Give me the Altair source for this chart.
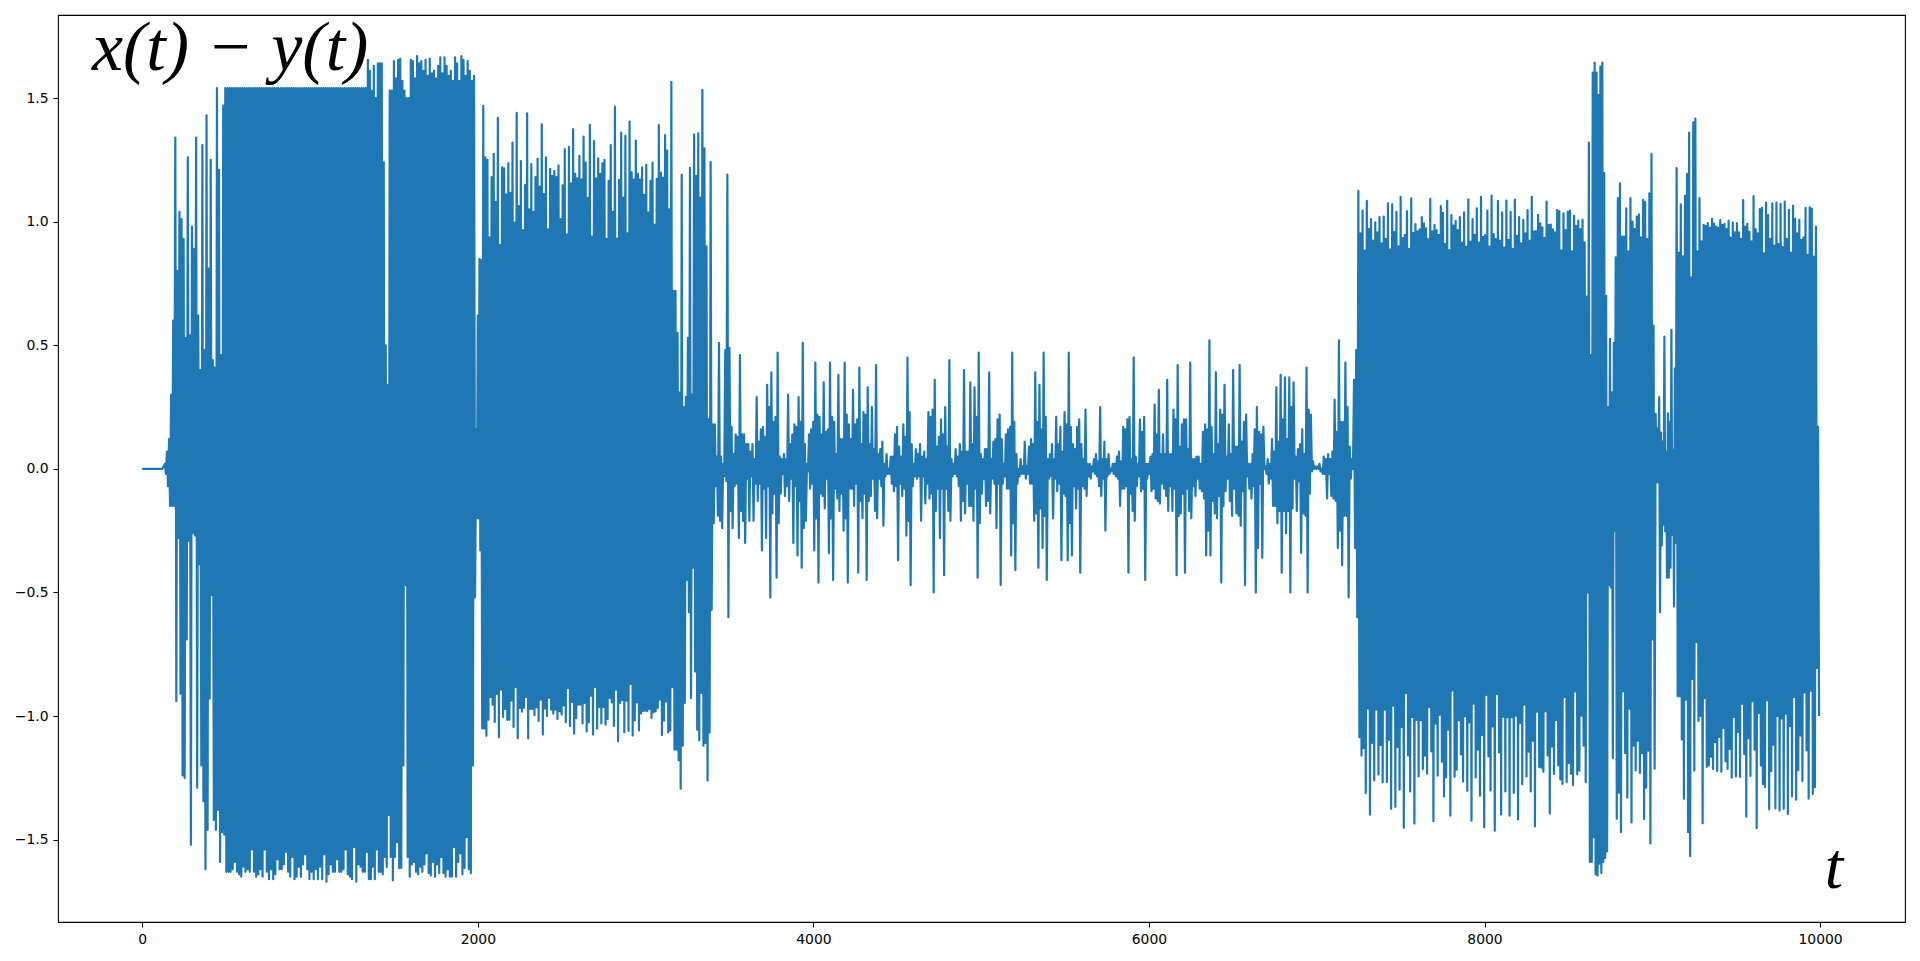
import altair as alt
import pandas as pd

flat_t = [0, 120]
flat_v = [0, 0]

# (start t, end t) for each stretch of the signal, with the tips
up_a = [.02,.07,.12,.30,.60,1.34,.80,1.04,1.01,.93,.53,1.26,.54,.98,.89,1.34,.62,.40,1.31,.48,1.43,.81,1.25,.44,.41,1.54,1.21,.46,1.47]
lo_a = [-.02,-.07,-.15,-.15,-.15,-.94,-.28,-.91,-1.24,-1.25,-.69,-.29,-1.52,-.26,-.27,-1.29,-.385,-1.2,-1.345,-1.62,-1.46,-.93,-.51,-1.42,-1.46,-1.38,-1.59,-1.47,-1.48]

up_b = [1.54] * 66
lo_b = [-1.63,-1.63,-1.63,-1.62,-1.59,-1.63,-1.64,-1.65,-1.61,-1.63,-1.62,-1.63,-1.54,-1.63,-1.65,-1.64,-1.62,-1.65,-1.54,-1.63,-1.66,-1.62,-1.66,-1.64,-1.58,-1.62,-1.62,-1.60,-1.55,-1.63,-1.65,-1.57,-1.66,-1.65,-1.61,-1.65,-1.60,-1.56,-1.62,-1.66,-1.63,-1.66,-1.62,-1.66,-1.61,-1.66,-1.56,-1.67,-1.64,-1.60,-1.63,-1.63,-1.58,-1.63,-1.63,-1.62,-1.54,-1.64,-1.65,-1.66,-1.53,-1.67,-1.60,-1.61,-1.63,-1.63]

up_c = [1.54,1.655,1.61,1.53,1.63,1.50,1.64,1.64,1.64,1.24,.50,.34]
lo_c = [-1.55,-1.66,-1.66,-1.61,-1.66,-1.54,-1.63,-1.63,-1.64,-1.57,-1.61,-1.40]

up_d = [1.53,1.65,1.58,1.655,1.66,1.57,1.53,1.50,1.50,1.655,1.65,1.58,1.67,1.64,1.65,1.61,1.655,1.59,1.66,1.60,1.61,1.58,1.63,1.665,1.60,1.665,1.63,1.59,1.61,1.57,1.665,1.64,1.57,1.67,1.655,1.59,1.65,1.61,1.57,1.59]
lo_d = [-1.57,-1.665,-1.57,-1.51,-1.615,-1.615,-1.2,-.47,-1.57,-1.65,-1.6,-1.59,-1.63,-1.64,-1.61,-1.63,-1.6,-1.555,-1.635,-1.645,-1.59,-1.65,-1.6,-1.635,-1.57,-1.635,-1.65,-1.62,-1.65,-1.65,-1.53,-1.65,-1.59,-1.555,-1.64,-1.615,-1.49,-1.62,-1.635,-1.2,-.52]

up_e = [.16,.62,.85]
lo_e = [-.2,-.33]

up_f = [.845,1.468,1.26,1.25,.937,1.18,1.274,1.08,1.42,.906,1.22,1.216,1.11,1.236,1.117,1.32,.996,1.44,1.063,1.245,.966,1.148,1.438,1.05,1.233,1.04,1.18,1.254,1.142,1.394,1.112,1.26,.969,1.214,1.185,1.205,1.18,1.228,1.01,1.147,1.294,.949,1.303,1.155,1.374,1.193,1.175,1.266,1.171,1.344,1.239,1.096,1.392,.94,1.326,1.175,1.256,1.193,1.236,1.25,.93,1.165,1.31,1.04,1.465,.931,1.169,1.36,1.097,1.347,.953,1.405,1.2,1.171,1.328,1.193,1.171,1.22,1.108,1.23,1.038,1.165,1.239,.988,1.173,1.391,1.198,1.178,1.35,1.287,1.05,1.566]
lo_f = [-1.05,-1.08,-1.015,-.923,-.954,-1.024,-.911,-1.085,-.893,-1.004,-.971,-1.015,-1.015,-.938,-1.044,-.883,-1.09,-.967,-.982,-.967,-.923,-1.09,-.971,-.971,-.997,-.965,-1.02,-.934,-1.075,-.97,-1.0,-.926,-.974,-.99,-.974,-1.012,-.98,-.994,-.957,-1.025,-.887,-1.04,-.943,-1.071,-1.008,-.954,-1.03,-.947,-1.062,-1.025,-.918,-1.075,-.883,-1.051,-.963,-1.03,-.963,-1.035,-1.012,-.927,-.945,-1.04,-.893,-1.102,-.947,-.936,-1.065,-.938,-1.06,-.87,-1.079,-1.017,-.945,-1.058,-.99,-.98,-.978,-.98,-.971,-1.008,-.985,-.981,-.967,-.934,-1.077,-1.019,-.942,-1.066,-1.058,-.883]

up_g = [.72,.72,.55,.31,1.19,.25,.29,.53,1.218,.3,1.353,1.185,1.357,1.097,1.533,1.297,.9,.2,1.241]
lo_g = [-1.136,-1.179,-1.294,-1.12,-.947,-.45,-.58,-.927,-.40,-.82,-1.055,-1.098,-.907,-1.12,-1.109,-1.261,-1.066,-.57]

# the quieter middle stretch, in hundredths
up_h = [18,18,5,51,5,2,48,119,49,17,6,14,13,46,14,14,10,10,7,10,4,29,11,16,17,13,34,25,39,19,21,47,5,4,6,4,30,10,14,18,17,29,19,51,10,2,14,16,19,43,22,21,14,35,15,16,43,21,19,6,38,12,12,43,22,18,12,32,18,20,41,10,23,22,33,10,25,8,42,6,8,11,2,6,0,5,5,14,17,9,5,18,13,45,23,10,2,8,6,10,5,7,4,23,21,24,36,9,13,20,14,25,9,44,4,2,8,5,10,7,40,7,7,35,10,33,21,47,6,4,8,8,39,4,11,12,20,22,12,2,14,16,17,47,19,6,0,4,1,11,1,9,12,10,39,19,34,16,47,21,4,6,10,4,21,10,17,7,23,18,47,17,10,8,17,20,10,4,24,2,2,1,4,6,3,25,4,11,4,6,0,2,2,5,7,3,17,16,20,21,4,45,5,2,20,15,21,2,2,5,6,26,14,32,6,14,6,36,6,6,24,20,42,9,18,20,20,8,43,4,4,5]
lo_h = [-22,-7,-19,-21,-24,-3,-5,-60,-17,-24,-7,-6,-28,-17,-21,-30,-4,-21,-3,-21,-6,-13,-6,-33,-8,-28,-7,-52,-18,-10,-44,-22,-10,-2,-11,-7,-13,-4,-30,-7,-35,-13,-40,-24,-21,-1,-8,-6,-33,-20,-46,-10,-11,-16,-4,-34,-20,-45,-8,-12,-17,-10,-25,-20,-46,-8,-8,-15,-6,-42,-13,-20,-10,-45,-13,-11,-4,-17,-20,-4,-7,-23,-3,-2,-2,-6,-9,-7,-37,-6,-11,-8,-27,-21,-47,-7,-3,-4,-3,-21,-3,-14,-6,-12,-10,-50,-17,-8,-28,-8,-43,-8,-17,-21,-3,-2,-3,-7,-21,-13,-18,-6,-15,-15,-21,-8,-44,-22,-10,-4,-15,-13,-18,-4,-6,-24,-6,-47,-6,-3,-8,-8,-35,-22,-41,-6,-3,-2,-2,-4,-2,-6,-6,-21,-18,-40,-16,-32,-19,-45,-4,-3,-20,-4,-9,-6,-37,-10,-11,-37,-22,-35,-7,-16,-8,-42,-7,-8,-11,-3,-4,-1,-2,-3,-7,-11,-4,-25,-3,-2,-1,-2,-3,-4,-15,-8,-8,-7,-42,-10,-17,-21,-7,-3,-9,-8,-45,-4,-2,-9,-8,-12,-13,-14,-6,-8,-11,-17,-7,-17,-8,-43,-19,-18,-10,-42,-8,-17,-20,-7,-11,-4]

up_i = [5,2,15,18,16,52,17,6,39,10,24,22,34,5,18,6,40,9,9,42,11,19,22,2,2,6,16,25,15,14,17,1,4,2,12,7,33,11,38,20,37,12,37,25,35,5,8,10,16,6,41,24,22,3,1,1,2,0,5,4,6,4,7,28,15,52,19,19,43,25,9,4,36,48]
lo_i = [-8,-9,-12,-35,-25,-35,-13,-18,-20,-11,-46,-15,-9,-4,-13,-19,-8,-18,-19,-23,-9,-47,-3,-8,-12,-7,-50,-32,-6,-36,0,-2,-6,-4,-15,-15,-22,-17,-42,-17,-26,-17,-50,-16,-4,-17,-5,-34,-18,-19,-50,-10,-1,0,0,0,-1,-2,-2,-12,-2,-11,-12,-13,-32,-25,-39,-19,-19,-52,-4,0,-32,-60]

up_j = [1.125,.953,1.045,.883,1.084,.97,1.01,.923,.997,.957,1.018,.912,1.02,.93,1.074,.888,1.07,.958,1.04,.9,1.1,.934,.947,1.043,.89,1.094,.955,.99,.961,.969,1.018,.993,.973,.929,1.092,.961,.987,.966,.947,1.063,1.036,.91,1.084,.885,1.027,.984,1.003,.966,1.018,.915,1.038,.899,1.09,.919,1.01,.947,1.054,.915,1.1,.939,.946,1.045,.899,1.105,.95,.929,1.084,.923,1.038,.895,1.085,.926,1.04,.89,1.089,.943,1.018,.912,1.007,.953,1.047,.923,1.1,.961,.962,1.028,.993,.977,.935,1.081,.987,.988,.969,.957,1.047,1.043,.884,1.034,.966,1.04,1.045,.88,1.024,.983,1.004,.97,1.007,.916,.697]
lo_j = [-1.086,-1.16,-1.13,-1.311,-.97,-1.399,-1.109,-1.26,-.974,-1.237,-1.117,-1.268,-.974,-1.267,-1.096,-1.375,-.958,-1.367,-1.125,-1.298,-1.044,-1.452,-.907,-1.159,-1.305,-1.004,-1.435,-1.015,-1.244,-1.017,-1.214,-1.16,-1.233,-.964,-1.143,-1.425,-1.031,-1.241,-.995,-1.185,-1.325,-1.248,-1.055,-1.403,-.897,-1.245,-1.217,-1.017,-1.155,-1.265,-1.001,-1.302,-1.026,-1.423,-.95,-1.248,-1.136,-1.322,-1.077,-1.45,-.914,-1.163,-1.302,-1.042,-1.464,-.911,-1.147,-1.398,-1.003,-1.305,-1.005,-1.403,-1.005,-1.311,-.999,-1.418,-1.028,-1.276,-.954,-1.244,-1.144,-1.305,-1.1,-1.446,-.982,-1.206,-1.209,-1.226,-.981,-1.159,-1.394,-1.124,-1.234,-1.016,-1.2,-1.257,-1.275,-.923,-1.267,-1.19,-1.233,-1.279,-.901,-1.236,-1.221,-.999,-1.12,-1.268,-.5]

up_k = [1.32,.46,1.603,1.643,1.603,1.513,1.627,1.643,1.196,.70,.25,.526,.31,.51]
lo_k = [-1.59,-1.49,-1.64,-1.645,-1.597,-1.635,-1.59,-1.574,-1.547,-.47,-.48,-1.17,-.25]

up_l = [.856,1.095,1.155,.94,.94,1.054,.88,1.095,1.0,.97,1.02,1.03,.937,1.088,1.08,.93,1.115,1.274,.58]
lo_l = [-1.415,-1.31,-1.47,-.9,-1.15,-1.33,-.97,-1.43,-1.12,-1.22,-1.1,-1.23,-1.15,-1.416,-1.29,-1.14,-1.515,-.69,-1.213]

up_m = [.222,.164,.29,.147,.11,.535,.07,.225,.19,.562,.077,.407]
lo_m = [-.055,-.58,-.31,-.226,-.253,-.44,-.40,-.267,-.557,-.30]

up_n = [1.217,.875,1.07,.86,1.104,1.193,1.36,.775,1.402,1.417,.88,1.095,.92,.987,.983,.994,.976,1.011,.992,.98,.976,1.007,.987,.991,.97,1.004,.936,.996,.957,.994,.957,.93,1.087,.98,.991,.96,.92,1.103,.97,.953,1.051,1.056,.872,1.077,1.027,.93,1.074,.903,1.077,.909,1.072,.897,1.081,.93,1.048,.875,1.065,1.011,.953,1.007,.926,.937,1.056,.866,1.058,1.053,.859,.98,.17]
lo_n = [-.92,-1.095,-1.334,-.934,-1.47,-1.567,-.85,-1.22,-.7,-1.02,-1.0,-1.434,-.927,-1.206,-1.2,-1.165,-1.214,-1.106,-1.222,-1.085,-1.225,-1.048,-1.183,-1.214,-1.133,-1.249,-1.004,-1.244,-1.064,-1.246,-.951,-1.153,-1.407,-1.09,-1.242,-.94,-1.136,-1.453,-.988,-1.2,-1.275,-1.287,-.936,-1.378,-1.223,-1.116,-1.373,-1.0,-1.383,-1.009,-1.375,-.99,-1.396,-1.041,-1.325,-.923,-1.338,-1.219,-1.079,-1.263,-.904,-1.139,-1.334,-.897,-1.315,-1.288,-.806,-1.0]

stretches = [
    (135, 495, up_a, lo_a), (495, 1333, up_b, lo_b), (1333, 1475, up_c, lo_c),
    (1475, 1990, up_d, lo_d), (1990, 2020, up_e, lo_e), (2020, 3166, up_f, lo_f),
    (3166, 3400, up_g, lo_g),
    (3400, 6296, [v / 100 for v in up_h], [v / 100 for v in lo_h]),
    (6296, 7248, [v / 100 for v in up_i], [v / 100 for v in lo_i]),
    (7248, 8622, up_j, lo_j), (8622, 8782, up_k, lo_k), (8782, 9020, up_l, lo_l),
    (9020, 9145, up_m, lo_m), (9145, 10000, up_n, lo_n),
]

# each stretch swings strictly between a tip above and a tip below
points = list(zip(flat_t, flat_v))
for start, end, ups, los in stretches:
    cols = max(len(ups), len(los))
    step = (end - start) / cols
    for i in range(cols):
        points.append((start + step * i, ups[i * len(ups) // cols]))
        points.append((start + step * (i + 0.5), los[i * len(los) // cols]))

df = pd.DataFrame(points, columns=["t", "v"])
df["n"] = range(len(df))

x_ticks = [0, 2000, 4000, 6000, 8000, 10000]
y_ticks = [-1.5, -1.0, -0.5, 0.0, 0.5, 1.0, 1.5]
x_scale = alt.Scale(domain=[-502, 10506], nice=False, zero=False)
y_scale = alt.Scale(domain=[-1.833, 1.836], nice=False, zero=False)

line = alt.Chart(df).mark_line(
    color="#1f77b4", strokeWidth=2.2, strokeJoin="round", strokeCap="butt", clip=True
).encode(
    x=alt.X("t:Q", scale=x_scale, title=None,
            axis=alt.Axis(values=x_ticks, format="d", grid=False, domain=False,
                          tickSize=5, tickWidth=1.1, tickColor="black", labelPadding=5,
                          labelFont="DejaVu Sans", labelFontSize=13.9, labelColor="black")),
    y=alt.Y("v:Q", scale=y_scale, title=None,
            axis=alt.Axis(values=y_ticks, format=".1f", grid=False, domain=False,
                          tickSize=5, tickWidth=1.1, tickColor="black", labelPadding=5,
                          labelFont="DejaVu Sans", labelFontSize=13.9, labelColor="black",
                          minExtent=40, maxExtent=40)),
    order="n:Q",
)

title_df = pd.DataFrame({"t": [-300], "v": [1.615], "s": ["x(t) \u2212 y(t)"]})
t_df = pd.DataFrame({"t": [10028], "v": [-1.694], "s": ["t"]})


def label(frame, size):
    return alt.Chart(frame).mark_text(
        font="Liberation Serif", fontStyle="italic", fontSize=size,
        color="black", align="left", baseline="alphabetic",
    ).encode(x=alt.X("t:Q", scale=x_scale), y=alt.Y("v:Q", scale=y_scale), text="s:N")


chart = alt.layer(line, label(title_df, 70), label(t_df, 66)).properties(
    width=1847, height=907,
    padding={"left": 6, "top": 5, "right": 5, "bottom": 0},
).configure_view(stroke="black", strokeWidth=1.1)

chart.save("out.html", embed_options={"renderer": "svg", "actions": False})
